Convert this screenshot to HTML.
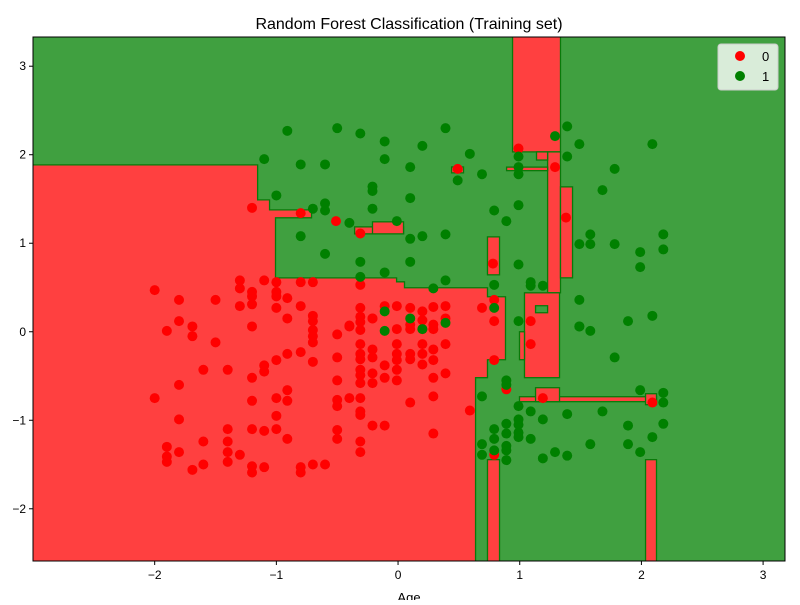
<!DOCTYPE html>
<html><head><meta charset="utf-8"><style>
body{margin:0;background:#fff}
svg text{font-family:"Liberation Sans","DejaVu Sans",sans-serif}
</style></head><body>
<svg id="chart" width="800" height="600" xmlns="http://www.w3.org/2000/svg">
<text x="409" y="29" font-size="16" text-anchor="middle">Random Forest Classification (Training set)</text>
<g id="plot"></g>
<g id="axes"></g>
<text x="409" y="602" font-size="13" text-anchor="middle">Age</text>
<g>
<rect x="718" y="44" width="60" height="46" rx="3" fill="#fff" fill-opacity="0.8" stroke="#ccc"/>
<g><circle cx="740" cy="56" r="5" fill="#ff0000"/><text x="762" y="61" font-size="13">0</text></g>
<g><circle cx="740" cy="76" r="5" fill="#008000"/><text x="762" y="81" font-size="13">1</text></g>
</g>
</svg>
<script>
const xTicks=[-2,-1,0,1,2,3];
const yTicks=[-2,-1,0,1,2,3];
const mainRed=[[-3.01,1.885],[-1.154,1.885],[-1.154,1.49],[-1.056,1.49],[-1.056,1.377],[-0.711,1.377],[-0.711,1.287],[-1.007,1.287],[-1.007,0.609],[-0.012,0.609],[-0.012,0.564],[0.053,0.564],[0.053,0.497],[0.735,0.497],[0.735,0.395],[0.883,0.395],[0.883,-0.316],[0.735,-0.316],[0.735,-0.519],[0.637,-0.519],[0.637,-2.6],[-3.01,-2.6]];
const redRects=[[0.941,1.335,2.032,3.4],[1.229,1.335,0.44,2.032],[1.335,1.434,0.609,1.637],[1.039,1.327,-0.519,0.44],[0.998,1.039,-0.316,0.0],[0.998,2.124,-0.79,-0.734],[1.13,1.327,-0.79,-0.632],[2.034,2.124,-0.824,-0.70],[0.735,0.834,-2.6,-1.445],[2.034,2.124,-2.6,-1.445],[0.735,0.834,0.643,1.072],[-0.357,0.045,1.106,1.185],[-0.21,0.045,1.106,1.242],[0.44,0.538,1.795,1.862],[1.138,1.229,1.94,2.032],[0.892,1.229,1.82,1.86]];
const greenRects=[[1.13,1.229,0.215,0.294]];
const redX=[-2.00,-1.80,-1.50,-1.30,-1.30,-1.10,-1.00,-1.20,-1.20,-1.00,-1.00,-0.91,-0.80,-0.70,-1.30,-1.20,-1.00,-0.80,-1.80,-1.69,-1.90,-1.69,-1.50,-1.20,-0.91,-0.70,-0.70,-0.70,-0.70,-0.70,-0.91,-0.80,-1.00,-1.10,-1.10,-0.70,-1.60,-1.40,-1.20,-1.80,-2.00,-1.20,-1.00,-0.91,-0.91,-1.80,-1.00,-1.40,-1.20,-1.10,-1.00,-0.91,-1.60,-1.40,-1.90,-1.80,-1.90,-1.90,-1.40,-1.30,-1.40,-1.69,-1.60,-1.20,-1.20,-1.10,-0.80,-0.80,-0.70,-0.60,-0.50,-0.50,-0.50,-0.50,-0.50,-0.40,-0.31,-0.31,-0.31,-0.50,-0.50,-0.31,-0.31,-0.21,-0.11,-0.31,-0.31,-0.31,-0.31,-0.21,-0.31,-0.31,-0.31,-0.21,-0.21,-0.31,-0.31,-0.31,-0.21,-0.21,-0.11,-0.11,-0.01,-0.01,-0.01,-0.01,-0.01,-0.01,-0.01,-0.11,-0.31,-0.40,-1.20,-0.80,-0.51,-0.31,0.49,0.99,1.29,1.38,0.78,0.79,0.79,0.69,0.79,0.89,1.09,1.09,1.19,2.09,0.59,0.79,0.29,0.39,0.29,0.29,0.39,0.20,0.20,0.20,0.10,0.10,0.10,-0.21,-0.40,0.39,0.29,0.29,0.20,0.20,0.20,0.10,0.10,0.29,0.39,0.29,0.10,0.29];
const redY=[0.47,0.36,0.36,0.58,0.49,0.58,0.56,0.45,0.40,0.45,0.40,0.38,0.56,0.56,0.29,0.31,0.27,0.29,0.12,0.06,0.01,-0.05,-0.12,0.06,0.15,0.18,0.12,0.02,-0.05,-0.12,-0.25,-0.23,-0.32,-0.38,-0.45,-0.34,-0.43,-0.43,-0.52,-0.60,-0.75,-0.78,-0.75,-0.66,-0.78,-0.99,-0.95,-1.10,-1.10,-1.12,-1.10,-1.21,-1.24,-1.24,-1.30,-1.36,-1.41,-1.47,-1.36,-1.39,-1.47,-1.56,-1.50,-1.52,-1.59,-1.53,-1.53,-1.59,-1.50,-1.50,-0.03,-0.29,-0.55,-0.77,-0.84,-0.75,-0.75,-0.90,-0.94,-1.11,-1.21,-1.24,-1.36,-1.06,-1.06,0.27,0.17,0.11,0.02,0.15,-0.14,-0.25,-0.31,-0.20,-0.29,-0.43,-0.49,-0.58,-0.47,-0.58,-0.38,-0.52,-0.14,-0.25,-0.32,-0.43,-0.55,0.03,0.29,0.29,0.53,0.06,1.40,1.34,1.25,1.11,1.84,2.07,1.86,1.29,0.77,0.36,0.12,0.27,-0.32,-0.65,0.12,-0.14,-0.75,-0.80,-0.89,-1.39,0.28,0.29,0.08,0.03,0.15,0.23,0.13,0.03,0.27,0.08,0.03,0.15,0.07,-0.14,-0.20,-0.32,-0.14,-0.25,-0.37,-0.25,-0.31,-0.52,-0.47,-0.73,-0.80,-1.15];
const greenX=[1.39,1.29,1.49,2.09,1.39,0.99,0.99,0.99,1.78,1.68,0.99,0.89,1.58,2.18,1.49,1.58,1.78,1.99,2.18,1.99,0.99,1.09,1.09,1.19,1.49,2.09,1.89,0.99,1.49,1.58,1.78,0.89,0.89,1.99,2.18,2.18,0.99,1.09,1.39,1.68,1.19,0.89,0.99,0.99,1.89,2.18,0.89,0.99,0.99,1.09,2.09,1.58,1.89,0.89,0.89,1.29,1.99,1.39,1.19,-0.91,-0.50,-0.31,-0.11,0.20,0.39,0.59,-1.10,-0.80,-0.60,-0.11,0.10,0.49,0.69,-1.00,-0.21,-0.21,0.10,-0.60,-0.60,-0.70,-0.21,-0.40,-0.01,-0.80,0.10,0.20,0.39,0.79,-0.60,-0.31,-0.31,-0.11,0.10,0.39,0.29,0.79,0.79,-0.11,-0.11,0.10,0.20,0.39,0.69,0.79,0.79,0.69,0.79,0.69,0.89,1.49];
const greenY=[2.32,2.21,2.12,2.12,1.98,1.98,1.86,1.78,1.84,1.60,1.43,1.25,1.10,1.10,0.99,0.99,0.99,0.90,0.93,0.73,0.76,0.56,0.52,0.52,0.36,0.18,0.12,0.12,0.06,0.01,-0.29,-0.55,-0.60,-0.66,-0.69,-0.80,-0.84,-0.90,-0.93,-0.90,-0.99,-1.04,-0.99,-1.05,-1.06,-1.04,-1.15,-1.14,-1.19,-1.21,-1.19,-1.27,-1.27,-1.29,-1.34,-1.36,-1.36,-1.40,-1.43,2.27,2.30,2.24,2.15,2.10,2.30,2.01,1.95,1.89,1.89,1.95,1.86,1.71,1.78,1.54,1.64,1.59,1.51,1.45,1.37,1.39,1.39,1.23,1.25,1.08,1.05,1.08,1.10,1.37,0.88,0.79,0.62,0.67,0.79,0.58,0.49,0.53,0.27,0.23,0.01,0.15,0.03,0.10,-0.73,-1.10,-1.21,-1.27,-1.34,-1.39,-1.45,0.06];
const X0=33,X1=785,Y0=37,Y1=561,xmin=-3.0,xmax=3.18,ymin=-2.59,ymax=3.33;
const sx=v=>X0+(v-xmin)/(xmax-xmin)*(X1-X0);
const sy=v=>Y1-(v-ymin)/(ymax-ymin)*(Y1-Y0);
const NS='http://www.w3.org/2000/svg';
const plot=document.getElementById('plot'),axes=document.getElementById('axes');
function mk(tag,attrs,parent){const e=document.createElementNS(NS,tag);for(const k in attrs)e.setAttribute(k,attrs[k]);parent.appendChild(e);return e;}
const cp=mk('clipPath',{id:'clip'},plot);mk('rect',{x:X0,y:Y0,width:X1-X0,height:Y1-Y0},cp);
const g=mk('g',{'clip-path':'url(#clip)'},plot);
const bg=mk('rect',{x:X0,y:Y0,width:X1-X0,height:Y1-Y0,fill:'#40a040'},g);


const mr=mk('polygon',{points:mainRed.map(p=>sx(p[0])+','+sy(p[1])).join(' '),fill:'#ff4040',stroke:'#0a7a0a','stroke-width':1.3},g);


redRects.forEach(r=>{const e=mk('rect',{x:sx(r[0]),y:sy(r[3]),width:sx(r[1])-sx(r[0]),height:sy(r[2])-sy(r[3]),fill:'#ff4040',stroke:'#0a7a0a','stroke-width':1.3},g);

});
greenRects.forEach(r=>{const e=mk('rect',{x:sx(r[0]),y:sy(r[3]),width:sx(r[1])-sx(r[0]),height:sy(r[2])-sy(r[3]),fill:'#40a040',stroke:'#0a7a0a','stroke-width':1.3},g);

});
redX.forEach((x,i)=>{const c=mk('circle',{cx:sx(x),cy:sy(redY[i]),r:5,fill:'#ff0000'},g);

});
greenX.forEach((x,i)=>{const c=mk('circle',{cx:sx(x),cy:sy(greenY[i]),r:5,fill:'#008000'},g);

});
const fr=mk('rect',{x:X0,y:Y0,width:X1-X0,height:Y1-Y0,fill:'none',stroke:'#000','stroke-width':1},axes);


const fmt=v=>(v<0?'\u2212':'')+Math.abs(v);
xTicks.forEach(v=>{const x=sx(v);mk('line',{x1:x,x2:x,y1:Y1,y2:Y1+4,stroke:'#000'},axes);
const t=mk('text',{x:x,y:Y1+18,'font-size':12,'text-anchor':'middle'},axes);t.textContent=fmt(v);

});
yTicks.forEach(v=>{const y=sy(v);mk('line',{x1:X0-4,x2:X0,y1:y,y2:y,stroke:'#000'},axes);
const t=mk('text',{x:X0-7,y:y+4,'font-size':12,'text-anchor':'end'},axes);t.textContent=fmt(v);

});
</script>
</body></html>
